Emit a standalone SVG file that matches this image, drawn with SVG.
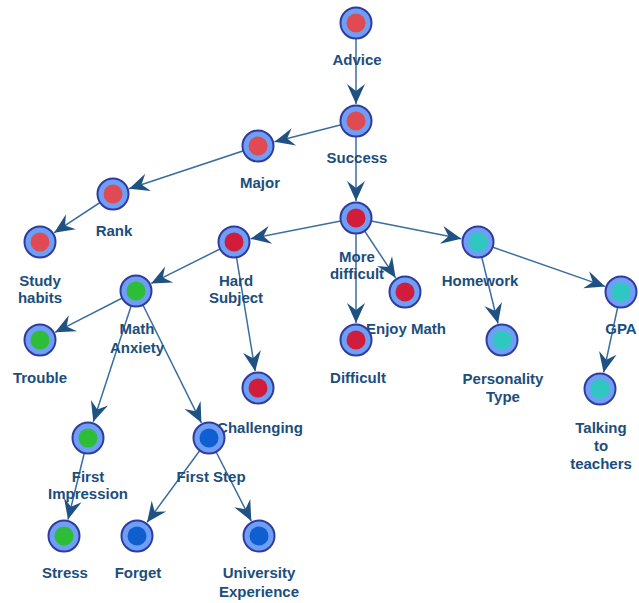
<svg xmlns="http://www.w3.org/2000/svg" width="639" height="603" viewBox="0 0 639 603">
<style>
.o{fill:#6f9ef5;stroke:#2f3c9e;stroke-width:2}
.r{fill:#e04a52}.c{fill:#d11c3c}.t{fill:#2fc8c0}.g{fill:#2ebd36}.b{fill:#0f5fd0}
.e{stroke:#3a6e9e;stroke-width:1.5;fill:none;marker-end:url(#ah)}
text{font-family:"Liberation Sans",Arial,sans-serif;font-size:15px;font-weight:bold;fill:#1b4e7c;text-anchor:middle}
</style>
<defs>
<marker id="ah" markerUnits="userSpaceOnUse" viewBox="-21 -10 22 20" markerWidth="22" markerHeight="20" refX="0" refY="0" orient="auto">
<path d="M0,0 L-20,-9 L-13,0 L-20,9 Z" fill="#1f5282"/>
</marker>
</defs>
<g id="connectors">
<line class="e" x1="356" y1="23" x2="356" y2="104"/>
<line class="e" x1="356" y1="121" x2="274.5" y2="141.8"/>
<line class="e" x1="258" y1="146" x2="129.1" y2="188.7"/>
<line class="e" x1="113" y1="194" x2="54.2" y2="232.7"/>
<line class="e" x1="356" y1="121" x2="356" y2="201"/>
<line class="e" x1="356" y1="218" x2="250.7" y2="238.7"/>
<line class="e" x1="356" y1="218" x2="461.3" y2="238.7"/>
<line class="e" x1="356" y1="218" x2="395.6" y2="277.8"/>
<line class="e" x1="356" y1="218" x2="356" y2="323"/>
<line class="e" x1="234" y1="242" x2="151.2" y2="283.4"/>
<line class="e" x1="234" y1="242" x2="255.2" y2="371.2"/>
<line class="e" x1="136" y1="291" x2="55.1" y2="332.3"/>
<line class="e" x1="136" y1="291" x2="93.3" y2="421.8"/>
<line class="e" x1="136" y1="291" x2="201.4" y2="422.8"/>
<line class="e" x1="478" y1="242" x2="498" y2="323.5"/>
<line class="e" x1="478" y1="242" x2="605" y2="286.4"/>
<line class="e" x1="621" y1="292" x2="603.6" y2="372.4"/>
<line class="e" x1="88" y1="438" x2="68" y2="519.5"/>
<line class="e" x1="209" y1="438" x2="147.1" y2="522.3"/>
<line class="e" x1="209" y1="438" x2="251.3" y2="520.9"/>
</g>
<g id="advice"><circle class="o" cx="356" cy="23" r="15.5"/><circle class="r" cx="356" cy="23" r="9.5"/><text x="357" y="65">Advice</text></g>
<g id="success"><circle class="o" cx="356" cy="121" r="15.5"/><circle class="r" cx="356" cy="121" r="9.5"/><text x="357" y="163">Success</text></g>
<g id="major"><circle class="o" cx="258" cy="146" r="15.5"/><circle class="r" cx="258" cy="146" r="9.5"/><text x="260" y="188">Major</text></g>
<g id="rank"><circle class="o" cx="113" cy="194" r="15.5"/><circle class="r" cx="113" cy="194" r="9.5"/><text x="114" y="236">Rank</text></g>
<g id="study-habits"><circle class="o" cx="40" cy="242" r="15.5"/><circle class="r" cx="40" cy="242" r="9.5"/><text x="40" y="286">Study</text><text x="40" y="303">habits</text></g>
<g id="more-difficult"><circle class="o" cx="356" cy="218" r="15.5"/><circle class="c" cx="356" cy="218" r="9.5"/><text x="357" y="262">More</text><text x="357" y="279">difficult</text></g>
<g id="hard-subject"><circle class="o" cx="234" cy="242" r="15.5"/><circle class="c" cx="234" cy="242" r="9.5"/><text x="236" y="286">Hard</text><text x="236" y="303">Subject</text></g>
<g id="homework"><circle class="o" cx="478" cy="242" r="15.5"/><circle class="t" cx="478" cy="242" r="9.5"/><text x="480" y="286">Homework</text></g>
<g id="gpa"><circle class="o" cx="621" cy="292" r="15.5"/><circle class="t" cx="621" cy="292" r="9.5"/><text x="621" y="334">GPA</text></g>
<g id="enjoy-math"><circle class="o" cx="405" cy="292" r="15.5"/><circle class="c" cx="405" cy="292" r="9.5"/><text x="406" y="334">Enjoy Math</text></g>
<g id="difficult"><circle class="o" cx="356" cy="340" r="15.5"/><circle class="c" cx="356" cy="340" r="9.5"/><text x="358" y="383">Difficult</text></g>
<g id="personality-type"><circle class="o" cx="502" cy="340" r="15.5"/><circle class="t" cx="502" cy="340" r="9.5"/><text x="503" y="384">Personality</text><text x="503" y="402">Type</text></g>
<g id="talking-to-teachers"><circle class="o" cx="600" cy="389" r="15.5"/><circle class="t" cx="600" cy="389" r="9.5"/><text x="601" y="433">Talking</text><text x="601" y="451">to</text><text x="601" y="469">teachers</text></g>
<g id="math-anxiety"><circle class="o" cx="136" cy="291" r="15.5"/><circle class="g" cx="136" cy="291" r="9.5"/><text x="137" y="334">Math</text><text x="137" y="353">Anxiety</text></g>
<g id="trouble"><circle class="o" cx="40" cy="340" r="15.5"/><circle class="g" cx="40" cy="340" r="9.5"/><text x="40" y="383">Trouble</text></g>
<g id="challenging"><circle class="o" cx="258" cy="388" r="15.5"/><circle class="c" cx="258" cy="388" r="9.5"/><text x="260" y="433">Challenging</text></g>
<g id="first-impression"><circle class="o" cx="88" cy="438" r="15.5"/><circle class="g" cx="88" cy="438" r="9.5"/><text x="88" y="482">First</text><text x="88" y="499">Impression</text></g>
<g id="first-step"><circle class="o" cx="209" cy="438" r="15.5"/><circle class="b" cx="209" cy="438" r="9.5"/><text x="211" y="482">First Step</text></g>
<g id="stress"><circle class="o" cx="64" cy="536" r="15.5"/><circle class="g" cx="64" cy="536" r="9.5"/><text x="65" y="578">Stress</text></g>
<g id="forget"><circle class="o" cx="137" cy="536" r="15.5"/><circle class="b" cx="137" cy="536" r="9.5"/><text x="138" y="578">Forget</text></g>
<g id="university-experience"><circle class="o" cx="259" cy="536" r="15.5"/><circle class="b" cx="259" cy="536" r="9.5"/><text x="259" y="578">University</text><text x="259" y="597">Experience</text></g>
</svg>
